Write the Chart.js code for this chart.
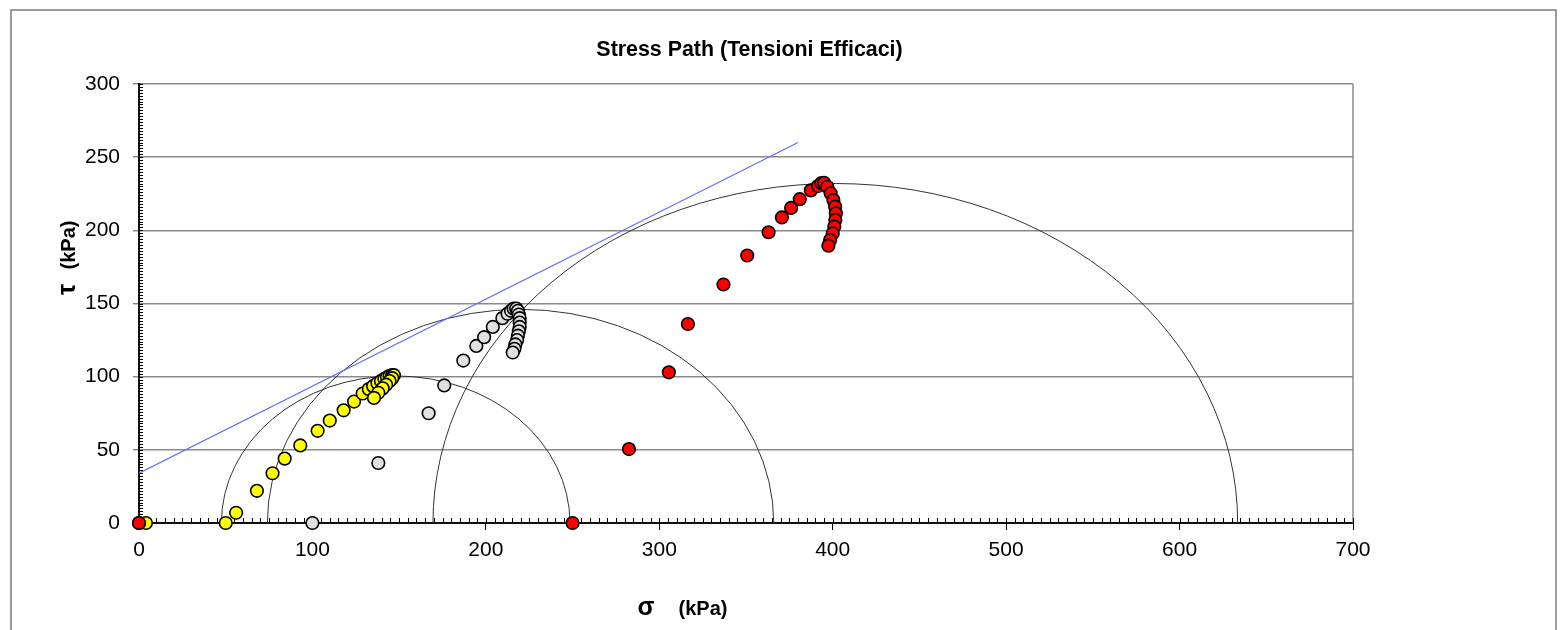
<!DOCTYPE html>
<html><head><meta charset="utf-8">
<script src="https://cdn.jsdelivr.net/npm/chart.js@4.4.0/dist/chart.umd.min.js"></script>
<style>html,body{margin:0;padding:0;background:#fff;}#wrap{width:1561px;height:630px;position:relative;}</style>
</head><body><div id="wrap"><canvas id="c"></canvas></div>
<script>
const titleText = 'Stress Path (Tensioni Efficaci)';
const xTitleSymbol = 'σ';
const xTitleUnit = '(kPa)';
const yTitleSymbol = 'τ';
const yTitleUnit = '(kPa)';
const xTicks = [0, 100, 200, 300, 400, 500, 600, 700];
const yTicks = [0, 50, 100, 150, 200, 250, 300];

const yellowSigma = [4, 50, 56, 68, 77, 84, 93, 103, 110, 118, 124, 129, 132.5, 135, 137.5, 139.5, 141.5, 143, 144.5, 146, 147, 146, 144.5, 142.5, 140.5, 138, 135.5];
const yellowTau   = [0, 0, 7, 22, 34, 44, 53, 63, 70, 77, 83, 88.5, 91.5, 93.5, 95.5, 97, 98.5, 99.5, 100.5, 101, 101, 99, 97, 94.5, 92, 89, 85.5];

const graySigma = [0, 100, 138, 167, 176, 187, 194.5, 199, 204, 209.5, 212.5, 214.5, 216, 217.5, 218.5, 219, 219.5, 219.5, 219.5, 219, 218.5, 218, 217, 216.5, 215.5];
const grayTau   = [0, 0, 41, 75, 94, 111, 121, 127, 134, 140, 143, 145, 146.5, 146.5, 145, 142.5, 140, 137, 134, 131, 128, 125, 122, 119, 116.5];

const redSigma = [0, 250, 282.5, 305.5, 316.5, 337, 350.7, 363, 370.7, 376, 381, 387.4, 391.5, 393.5, 395, 396.9, 398.8, 400.4, 401.4, 401.8, 401.5, 400.9, 400, 398.5, 397.5];
const redTau   = [0, 0, 50.5, 103, 136, 163, 182.8, 198.7, 208.8, 215.3, 221.3, 227.3, 230.3, 232.3, 232.5, 229.8, 225.3, 220.7, 216.2, 211.6, 207, 202.5, 197.9, 193.4, 189.5];

const envelopeSigma = [0, 380];
const envelopeTau = [34, 260];

const circleCenters = [148, 220, 401.5];
const circleRadii = [100.5, 146, 232];

const toPts = (xs, ys) => xs.map((v, i) => ({x: v, y: ys[i]}));
const FONT = '"Liberation Sans", Arial, sans-serif';

const decor = {
  id: 'decor',
  beforeDatasetsDraw(chart) {
    const {ctx, scales: {x, y}} = chart;
    ctx.save();
    ctx.strokeStyle = '#8a8a8a'; ctx.lineWidth = 1.5;
    const xr = x.getPixelForValue(700);
    ctx.beginPath(); ctx.moveTo(xr, y.getPixelForValue(300)); ctx.lineTo(xr, y.getPixelForValue(0)); ctx.stroke();
    ctx.strokeStyle = '#333'; ctx.lineWidth = 1;
    circleCenters.forEach((c, i) => {
      const r = circleRadii[i];
      const cx = x.getPixelForValue(c), cy = y.getPixelForValue(0);
      const rx = x.getPixelForValue(c + r) - cx;
      const ry = cy - y.getPixelForValue(r);
      ctx.beginPath(); ctx.ellipse(cx, cy, rx, ry, 0, Math.PI, 2 * Math.PI); ctx.stroke();
    });
    ctx.strokeStyle = '#000'; ctx.lineWidth = 1;
    const y0 = y.getPixelForValue(0), x0 = x.getPixelForValue(0);
    ctx.beginPath();
    for (let v = 5; v <= 700; v += 5) {
      const px = Math.round(x.getPixelForValue(v)) + 0.5;
      ctx.moveTo(px, y0); ctx.lineTo(px, y0 - 5);
    }
    for (let v = 2; v <= 300; v += 2) {
      const py = Math.round(y.getPixelForValue(v)) + 0.5;
      ctx.moveTo(x0, py); ctx.lineTo(x0 + 4, py);
    }
    ctx.stroke();
    ctx.restore();
  },
  afterDraw(chart) {
    const {ctx} = chart;
    ctx.save();
    ctx.strokeStyle = '#7a7a7a'; ctx.lineWidth = 1.5;
    ctx.strokeRect(11, 10, 1545, 660);
    ctx.fillStyle = '#000';
    ctx.textAlign = 'center'; ctx.textBaseline = 'alphabetic';
    ctx.font = 'bold 21.4px ' + FONT;
    ctx.fillText(titleText, 749.5, 56);
    ctx.font = 'bold 25px ' + FONT;
    ctx.fillText(xTitleSymbol, 646, 615);
    ctx.font = 'bold 20px ' + FONT;
    ctx.fillText(xTitleUnit, 703, 615);
    ctx.translate(75, 0);
    ctx.rotate(-Math.PI / 2);
    ctx.font = 'bold 25px ' + FONT;
    ctx.fillText(yTitleSymbol, -289.5, 0);
    ctx.font = 'bold 20px ' + FONT;
    ctx.fillText(yTitleUnit, -245, 0);
    ctx.restore();
  }
};

const pointStyle = (bg) => ({
  showLine: false, clip: false, pointRadius: 6.3, pointHoverRadius: 6.3, pointBorderWidth: 1.6,
  pointBackgroundColor: bg, pointBorderColor: '#000', backgroundColor: bg, borderColor: '#000'
});

new Chart(document.getElementById('c'), {
  type: 'scatter',
  data: {
    datasets: [
      Object.assign({label: 'C3', data: toPts(redSigma, redTau)}, pointStyle('#ff0000')),
      Object.assign({label: 'C2', data: toPts(graySigma, grayTau)}, pointStyle('#e0e0e0')),
      Object.assign({label: 'C1', data: toPts(yellowSigma, yellowTau)}, pointStyle('#ffff00')),
      {label: 'Envelope', data: toPts(envelopeSigma, envelopeTau), showLine: true, pointRadius: 0,
       borderColor: '#6a6aff', borderWidth: 1.2, backgroundColor: '#6a6aff'}
    ]
  },
  options: {
    responsive: true, maintainAspectRatio: false, animation: false, devicePixelRatio: 1,
    layout: {padding: {left: 0, top: 84, right: 208, bottom: 0}},
    plugins: {legend: {display: false}, title: {display: false}, tooltip: {enabled: false}},
    scales: {
      x: {
        type: 'linear', min: 0, max: 700,
        afterBuildTicks: s => { s.ticks = xTicks.map(v => ({value: v})); },
        afterFit: s => { s.height = 107; },
        ticks: {font: {family: FONT, size: 21}, color: '#000', padding: 8, maxRotation: 0, autoSkip: false},
        grid: {drawOnChartArea: false, drawTicks: true, tickLength: 7, tickColor: '#000', tickWidth: 1},
        border: {color: '#111', width: 2}
      },
      y: {
        type: 'linear', min: 0, max: 300,
        afterBuildTicks: s => { s.ticks = yTicks.map(v => ({value: v})); },
        afterFit: s => { s.width = 139; },
        ticks: {font: {family: FONT, size: 21}, color: '#000', padding: 13, autoSkip: false},
        grid: {color: c => (c.tick && c.tick.value === 0) ? 'rgba(0,0,0,0)' : '#8a8a8a', lineWidth: 1.6,
               drawTicks: true, tickLength: 6, tickColor: '#555', tickWidth: 1},
        border: {color: '#111', width: 2}
      }
    }
  },
  plugins: [decor]
});
</script>
</body></html>
